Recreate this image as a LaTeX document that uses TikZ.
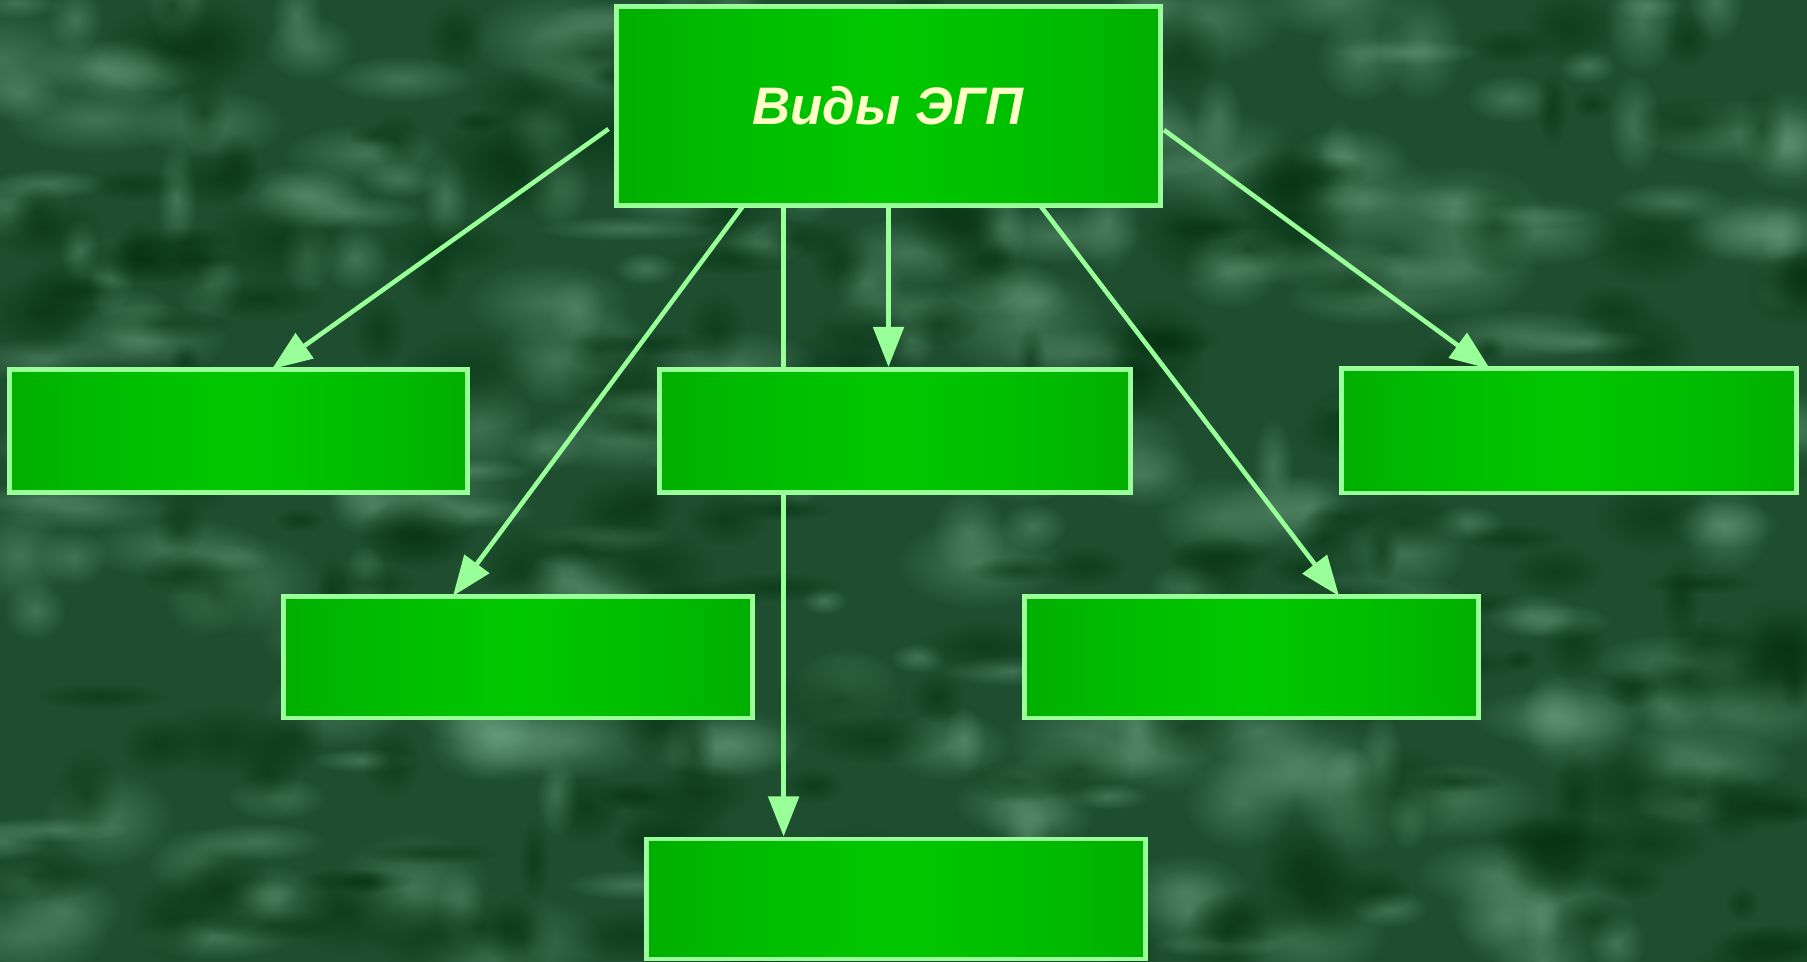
\documentclass[tikz,border=0pt]{standalone}
\usepackage{fontspec}
\setmainfont{Liberation Sans}
\usetikzlibrary{arrows.meta,fadings}
\definecolor{bgbase}{HTML}{1E4E2F}
\definecolor{bglight}{HTML}{6FA585}
\definecolor{bgdark}{HTML}{03300F}
\definecolor{boxedge}{HTML}{008A00}
\definecolor{boxq}{HTML}{00A200}
\definecolor{boxt}{HTML}{00B800}
\definecolor{boxmid}{HTML}{00C800}
\definecolor{rim}{HTML}{99FF99}
\definecolor{titlecol}{HTML}{FFFFC8}
\pgfdeclarehorizontalshading{boxshade}{100bp}{
  color(0bp)=(boxedge); color(16bp)=(boxq); color(32bp)=(boxt);
  color(50bp)=(boxmid); color(68bp)=(boxt); color(84bp)=(boxq);
  color(100bp)=(boxedge)}
\tikzfading[name=fuzzy, inner color=transparent!20, outer color=transparent!100]
\tikzset{
  gbox/.style={draw=rim, line width=1.4pt, shading=boxshade, inner sep=0pt},
  conn/.style={draw=rim, line width=1.3pt, -{Triangle[length=11.4pt,width=8.6pt]}},
  plain/.style={draw=rim, line width=1.3pt}
}
\begin{document}
\begin{tikzpicture}[x=0.01cm,y=-0.01cm]
\useasboundingbox (0,0) rectangle (1807,962);
\fill[bgbase] (0,0) rectangle (1807,962);
\pgfmathsetseed{11}
\begin{scope}
\clip (0,0) rectangle (1807,962);
\foreach \i in {1,...,260} {
  \pgfmathsetmacro\xx{rnd*1807}
  \pgfmathsetmacro\yy{rnd*962}
  \pgfmathsetmacro\rx{20+rnd*80}
  \pgfmathsetmacro\ry{12+rnd*45}
  \fill[bglight, path fading=fuzzy, fill opacity=0.55] (\xx,\yy) ellipse ({\rx} and {\ry});
}
\foreach \i in {1,...,240} {
  \pgfmathsetmacro\xx{rnd*1807}
  \pgfmathsetmacro\yy{rnd*962}
  \pgfmathsetmacro\rx{15+rnd*60}
  \pgfmathsetmacro\ry{10+rnd*40}
  \fill[bgdark, path fading=fuzzy, fill opacity=0.7] (\xx,\yy) ellipse ({\rx} and {\ry});
}
\end{scope}

\node[gbox, minimum width=5.44cm, minimum height=1.98cm] (top) at (888.5,106)
  {\fontsize{15}{18}\selectfont\color{titlecol}\textbf{\textit{Виды ЭГП}}};
\node[gbox, minimum width=4.57cm, minimum height=1.23cm] (L1) at (238.5,431) {};
\node[gbox, minimum width=4.70cm, minimum height=1.23cm] (M1) at (895,431) {};
\node[gbox, minimum width=4.55cm, minimum height=1.24cm] (R1) at (1569,431) {};
\node[gbox, minimum width=4.69cm, minimum height=1.21cm] (L2) at (518,657.5) {};
\node[gbox, minimum width=4.54cm, minimum height=1.21cm] (R2) at (1251.5,657.5) {};
\node[gbox, minimum width=4.99cm, minimum height=1.20cm] (B) at (896,899) {};

\coordinate (s1) at (608.5,129);
\coordinate (e1) at (272,369);
\coordinate (s2) at (743,206);
\coordinate (e2) at (453,596);
\coordinate (x3) at (783.6,0);
\coordinate (x4) at (888.5,0);
\coordinate (s5) at (1040.6,206);
\coordinate (e5) at (1339,596);
\coordinate (s6) at (1164,130);
\coordinate (e6) at (1490,369);

\draw[conn] (s1) -- (e1);
\draw[conn] (s2) -- (e2);
\draw[plain] (top.south -| x3) -- (M1.north -| x3);
\draw[conn] (M1.south -| x3) -- (B.north -| x3);
\draw[conn] (top.south -| x4) -- (M1.north -| x4);
\draw[conn] (s5) -- (e5);
\draw[conn] (s6) -- (e6);
\end{tikzpicture}
\end{document}
